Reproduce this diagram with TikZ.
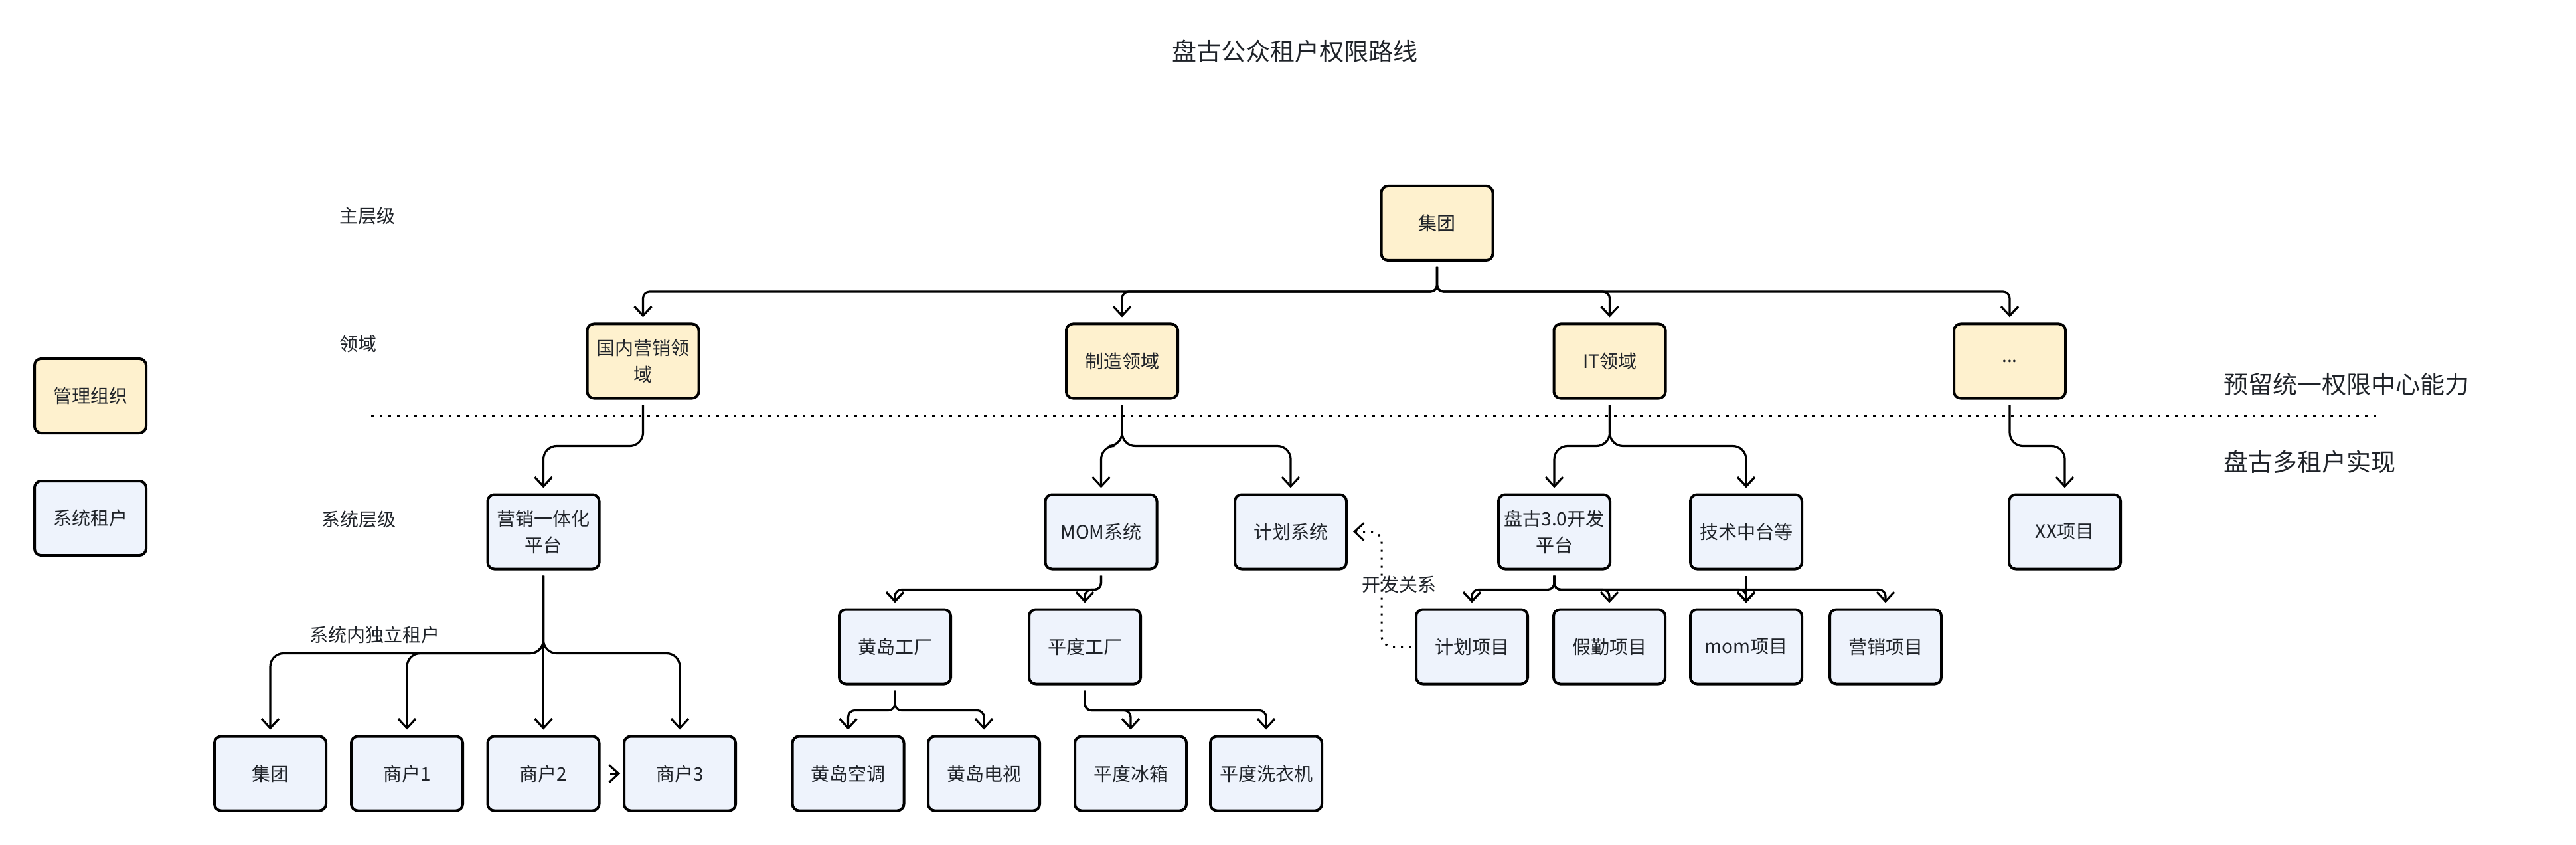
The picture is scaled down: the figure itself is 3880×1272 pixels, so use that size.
\documentclass[tikz,border=0pt]{standalone}
\usepackage{fontspec}
\setmainfont{Noto Sans CJK SC}
\usetikzlibrary{arrows.meta}
\definecolor{ylw}{HTML}{FEF1CE}
\definecolor{blu}{HTML}{EEF3FC}
\definecolor{txt}{HTML}{1F2329}
\begin{document}
\begin{tikzpicture}[x=0.5pt,y=-0.5pt,
  box/.style={draw=black, line width=2pt, rounded corners=5pt, minimum width=84pt, minimum height=56pt, inner sep=0pt, align=center, text=txt, font=\fontsize{14pt}{20pt}\selectfont},
  ybox/.style={box, fill=ylw},
  bbox/.style={box, fill=blu},
  conn/.style={draw=black, line width=1.6pt, rounded corners=10pt, shorten <=4pt, shorten >=4pt, -{Straight Barb[length=7pt,width=13pt]}},
  tconn/.style={conn, rounded corners=5pt},
  lbl/.style={text=txt, font=\fontsize{14pt}{20pt}\selectfont, inner sep=0pt},
  big/.style={text=txt, font=\fontsize{18.5pt}{24pt}\selectfont, inner sep=0pt},
  sep/.style={draw=black, line width=2pt, dash pattern=on 2pt off 4.5pt},
  dev/.style={draw=black, line width=1.5pt, dash pattern=on 1.5pt off 4.5pt, rounded corners=8pt, shorten <=3pt, shorten >=4pt, -{Straight Barb[length=7pt,width=13pt]}}
]
\useasboundingbox (0,0) rectangle (3880,1272);

% title and side labels
\node[big] (title) at (1950,77) {盘古公众租户权限路线};
\node[lbl, anchor=west] (l1) at (511,325) {主层级};
\node[lbl, anchor=west] (l2) at (511,518) {领域};
\node[lbl, anchor=west] (l3) at (484,782) {系统层级};
\node[big, anchor=west] (r1) at (3349,578) {预留统一权限中心能力};
\node[big, anchor=west] (r2) at (3349,695) {盘古多租户实现};

% legend
\node[ybox] (lg1) at (136,596) {管理组织};
\node[bbox] (lg2) at (136,780) {系统租户};

% separator
\coordinate (sepa) at (559,626);
\coordinate (sepb) at (3586,626);
\draw[sep] (sepa) -- (sepb);

% top
\node[ybox] (jt) at (2164.5,336) {集团};
% domains
\node[ybox] (gn) at (968.5,543.5) {国内营销领\\域};
\node[ybox] (zz) at (1690,543.5) {制造领域};
\node[ybox] (it) at (2424.5,543.5) {IT领域};
\node[ybox] (etc) at (3027,543.5) {...};
% systems
\node[bbox] (yx) at (818.5,800.5) {营销一体化\\平台};
\node[bbox] (mom) at (1658.5,800.5) {MOM系统};
\node[bbox] (jhxt) at (1944,800.5) {计划系统};
\node[bbox] (pg) at (2341,800.5) {盘古3.0开发\\平台};
\node[bbox] (js) at (2630,800.5) {技术中台等};
\node[bbox] (xx) at (3110,800.5) {XX项目};
% level 3
\node[bbox] (hd) at (1348,973.5) {黄岛工厂};
\node[bbox] (pd) at (1634,973.5) {平度工厂};
\node[bbox] (jhxm) at (2217,973.5) {计划项目};
\node[bbox] (jq) at (2424,973.5) {假勤项目};
\node[bbox] (mxm) at (2630,973.5) {mom项目};
\node[bbox] (yxm) at (2840,973.5) {营销项目};
% level 4
\node[bbox] (jt2) at (407,1164.5) {集团};
\node[bbox] (sh1) at (613,1164.5) {商户1};
\node[bbox] (sh2) at (818.5,1164.5) {商户2};
\node[bbox] (sh3) at (1024,1164.5) {商户3};
\node[bbox] (hdkt) at (1277.5,1164.5) {黄岛空调};
\node[bbox] (hdds) at (1482,1164.5) {黄岛电视};
\node[bbox] (pdbx) at (1703,1164.5) {平度冰箱};
\node[bbox] (pdxy) at (1907,1164.5) {平度洗衣机};

% connectors: top -> domains
\draw[tconn] (jt.south) -- ++(0,45) -| (gn.north);
\draw[tconn] (jt.south) -- ++(0,45) -| (zz.north);
\draw[tconn] (jt.south) -- ++(0,45) -| (it.north);
\draw[tconn] (jt.south) -- ++(0,45) -| (etc.north);

% domains -> systems
\draw[conn] (gn.south) -- ++(0,70) -| (yx.north);
\draw[conn] (zz.south) -- ++(0,70) -| (mom.north);
\draw[conn] (zz.south) -- ++(0,70) -| (jhxt.north);
\draw[conn] (it.south) -- ++(0,70) -| (pg.north);
\draw[conn] (it.south) -- ++(0,70) -| (js.north);
\draw[conn] (etc.south) -- ++(0,70) -| (xx.north);

% systems -> level 3
\draw[tconn] (mom.south) -- ++(0,29) -| (hd.north);
\draw[tconn] (mom.south) -- ++(0,29) -| (pd.north);
\draw[tconn] (pg.south) -- ++(0,29) -| (jhxm.north);
\draw[tconn] (pg.south) -- ++(0,29) -| (jq.north);
\draw[tconn] (pg.south) -- ++(0,29) -| (mxm.north);
\draw[tconn] (pg.south) -- ++(0,29) -| (yxm.north);
\draw[conn] (js.south) -- (mxm.north);

% marketing platform -> tenants
\draw[conn] (yx.south) -- ++(0,125) -| (jt2.north);
\draw[conn] (yx.south) -- ++(0,125) -| (sh1.north);
\draw[conn] (yx.south) -- (sh2.north);
\draw[conn] (yx.south) -- ++(0,125) -| (sh3.north);
\draw[conn, shorten <=7pt, shorten >=2pt] (sh2.east) -- (sh3.west);
\node[lbl] (dlbl) at (564,956) {系统内独立租户};

% factories -> products
\draw[tconn] (hd.south) -- ++(0,38) -| (hdkt.north);
\draw[tconn] (hd.south) -- ++(0,38) -| (hdds.north);
\draw[tconn] (pd.south) -- ++(0,38) -| (pdbx.north);
\draw[tconn] (pd.south) -- ++(0,38) -| (pdxy.north);

% development relation
\draw[dev] (jhxm.west) -- ++(-50,0) |- (jhxt.east);
\node[lbl] (kf) at (2107,880) {开发关系};
\end{tikzpicture}
\end{document}
